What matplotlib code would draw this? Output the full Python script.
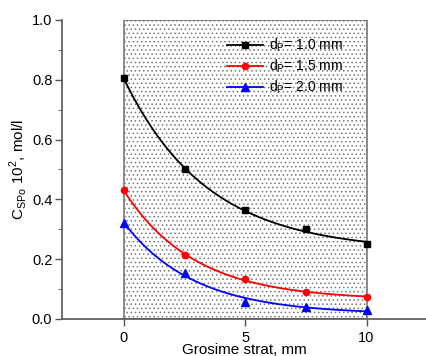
import numpy as np
import matplotlib
matplotlib.use("Agg")
import matplotlib.pyplot as plt
from matplotlib.patches import Rectangle
from matplotlib.ticker import MultipleLocator, FormatStrFormatter

plt.rcParams['font.family'] = ['Liberation Sans', 'DejaVu Sans']
plt.rcParams['mathtext.fontset'] = 'custom'
plt.rcParams['mathtext.rm'] = 'Liberation Sans'
plt.rcParams['hatch.color'] = '#707070'
plt.rcParams['hatch.linewidth'] = 0.6

# data
thickness = np.array([0, 2.5, 5, 7.5, 10])
c_10 = np.array([0.805, 0.50, 0.365, 0.30, 0.25])
c_15 = np.array([0.43, 0.214, 0.134, 0.09, 0.074])
c_20 = np.array([0.32, 0.154, 0.057, 0.04, 0.03])
labels = ["1.0", "1.5", "2.0"]


def exp_fit(x, y):
    # y = y0 + A*exp(-x/t), t by grid search, y0 and A by least squares
    best = None
    for t in np.linspace(0.5, 20, 400):
        M = np.column_stack([np.ones_like(x), np.exp(-x / t)])
        coef, res, _, _ = np.linalg.lstsq(M, y, rcond=None)
        err = np.sum((M @ coef - y) ** 2)
        if best is None or err < best[0]:
            best = (err, coef, t)
    _, (y0, A), t = best
    xs = np.linspace(x.min(), x.max(), 200)
    return xs, y0 + A * np.exp(-xs / t)


fig = plt.figure(figsize=(4.26, 3.56), dpi=100)
ax = fig.add_axes([0.1455, 0.104, 0.8545, 0.84])

ax.add_patch(Rectangle((0, 0), 10, 1, facecolor='white', edgecolor='#777777',
                       hatch='....', linewidth=1.2, zorder=0))

series = [(c_10, 'black', 's', 4.5), (c_15, 'red', 'o', 4.5), (c_20, 'blue', '^', 6)]
for (vals, col, mk, ms), lab in zip(series, labels):
    xs, ys = exp_fit(thickness, vals)
    ax.plot(xs, ys, color=col, lw=1.3, zorder=2)
    ax.plot(thickness, vals, mk, color=col, ms=ms, clip_on=False, zorder=3)
    ax.plot([], [], color=col, marker=mk, ms=ms, lw=1.3,
            label=r"d$_{\mathregular{P}}$= " + lab + " mm")

ax.set_xlim(-2.55, 12.45)
ax.set_ylim(0, 1.0)
ax.set_xticks([0, 5, 10])
ax.yaxis.set_major_locator(MultipleLocator(0.2))
ax.yaxis.set_minor_locator(MultipleLocator(0.1))
ax.yaxis.set_major_formatter(FormatStrFormatter('%.1f'))
ax.tick_params(labelsize=10.5, color='#555555', direction='out', width=1.0)
ax.tick_params(axis='y', which='major', length=5, pad=2)
ax.tick_params(axis='y', which='minor', length=3, color='#555555')
ax.tick_params(axis='x', length=5)

for s in ['top', 'right']:
    ax.spines[s].set_visible(False)
for s in ['left', 'bottom']:
    ax.spines[s].set_color('#555555')
    ax.spines[s].set_linewidth(1.2)

ax.set_ylabel(r"C$_{\mathregular{SPo}}$ 10$^{\mathregular{2}}$, mol/l", fontsize=11, labelpad=2)
ax.set_xlabel("Grosime strat, mm", fontsize=11, labelpad=-1)

ax.legend(loc='upper left', bbox_to_anchor=(0.42, 0.985), frameon=False,
          fontsize=10, handlelength=2.6, labelspacing=0.25, handletextpad=0.4)

fig.savefig("out.png", dpi=100)
